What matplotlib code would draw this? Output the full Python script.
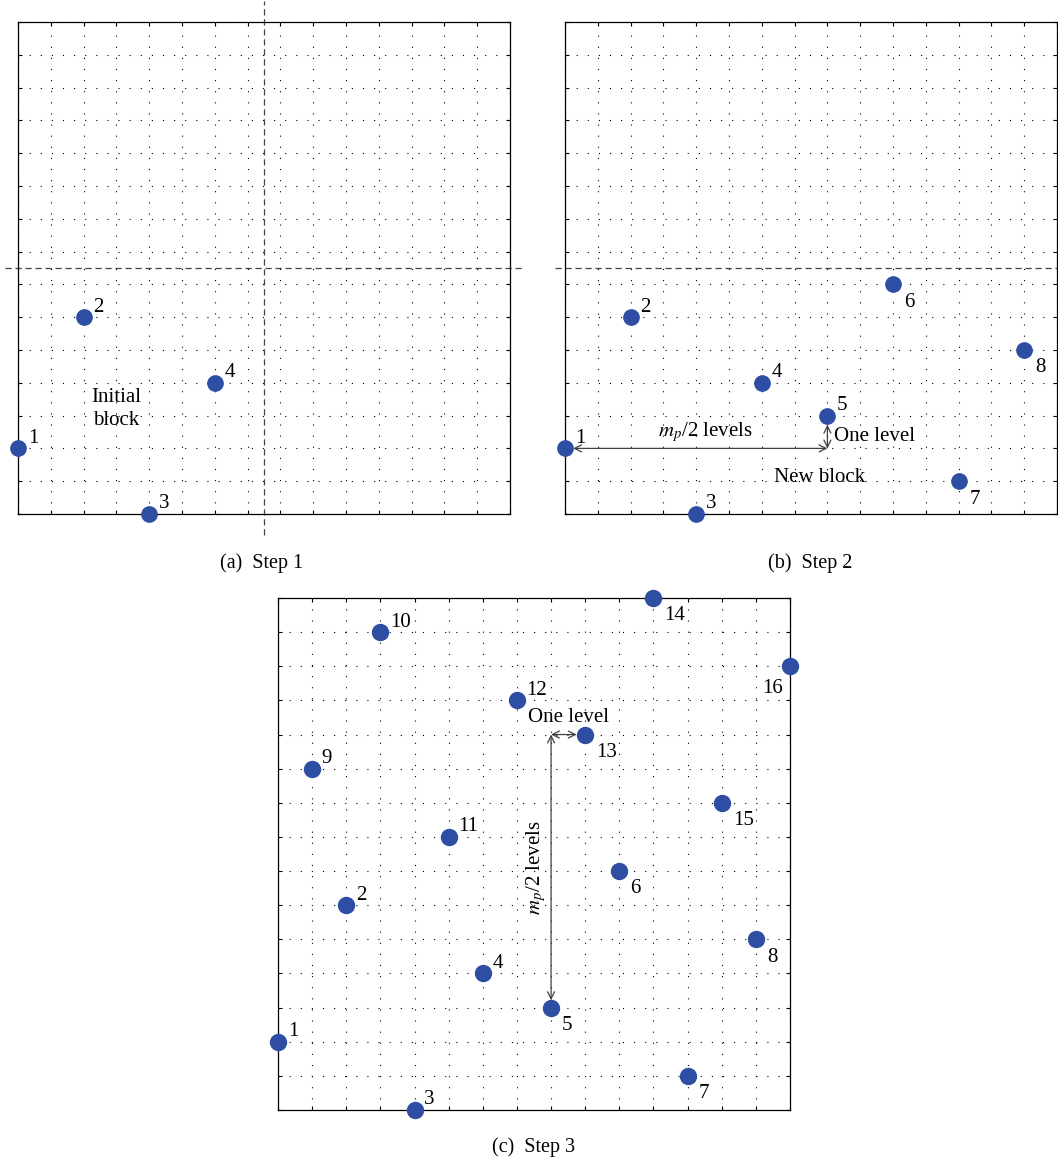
import numpy as np
import matplotlib
matplotlib.use("Agg")
import matplotlib.pyplot as plt

plt.rcParams["font.family"] = ["Liberation Serif", "DejaVu Serif"]
plt.rcParams["mathtext.fontset"] = "stix"

# ─────────────────────────────────────────────
# Sample points (grid-level coordinates) for each step
# ─────────────────────────────────────────────

step1_ids = [1, 2, 3, 4]
step1_x = [0, 2, 4, 6]
step1_y = [2, 6, 0, 4]
step1_pos = ["ur", "ur", "ur", "ur"]

step2_ids = [1, 2, 3, 4, 5, 6, 7, 8]
step2_x = [0, 2, 4, 6, 8, 10, 12, 14]
step2_y = [2, 6, 0, 4, 3, 7, 1, 5]
step2_pos = ["ur", "ur", "ur", "ur", "ur", "dr", "dr", "dr"]

step3_ids = [1, 2, 3, 4, 5, 6, 7, 8, 9, 10, 11, 12, 13, 14, 15, 16]
step3_x = [0, 2, 4, 6, 8, 10, 12, 14, 1, 3, 5, 7, 9, 11, 13, 15]
step3_y = [2, 6, 0, 4, 3, 7, 1, 5, 10, 14, 8, 12, 11, 15, 9, 13]
step3_pos = ["ur", "ur", "ur", "ur", "dr", "dr", "dr", "dr",
             "ur", "ur", "ur", "ur", "dr", "dr", "dr", "dl"]

N_LEVELS = 15
DOT = "#2d4ea2"
ARROW = "#404040"
FS = 15

W, H = 1058, 1162


def px_axes(left, top, right, bottom):
    """Axes rectangle from pixel edges of the canvas."""
    return [left / W, 1 - bottom / H, (right - left) / W, (bottom - top) / H]


def setup_grid(ax):
    ax.set_xlim(0, N_LEVELS)
    ax.set_ylim(0, N_LEVELS)
    ax.set_xticks(np.arange(0, N_LEVELS + 1))
    ax.set_yticks(np.arange(0, N_LEVELS + 1))
    ax.set_xticklabels([])
    ax.set_yticklabels([])
    ax.tick_params(direction="in", length=3, width=0.8,
                   top=True, right=True, bottom=True, left=True)
    ax.grid(True, color="black", linestyle=(0, (1, 9)), linewidth=0.8)
    for sp in ax.spines.values():
        sp.set_linewidth(0.9)


offsets = {
    "ur": ((7, 4), "left", "baseline"),
    "dr": ((8, -6), "left", "top"),
    "dl": ((-5, -9), "right", "top"),
}


def draw_points(ax, xs, ys, ids, pos, ms=11):
    ax.plot(xs, ys, "o", color=DOT, markersize=ms, clip_on=False, zorder=5)
    for x, y, i, p in zip(xs, ys, ids, pos):
        off, ha, va = offsets[p]
        ax.annotate(str(i), (x, y), xytext=off, textcoords="offset points",
                    ha=ha, va=va, fontsize=FS, zorder=6, annotation_clip=False)


def double_arrow(ax, start, end):
    ax.annotate("", xy=end, xytext=start, annotation_clip=False,
                arrowprops=dict(arrowstyle="<->,head_length=0.5,head_width=0.25",
                                color=ARROW, lw=0.9, shrinkA=0, shrinkB=0))


fig = plt.figure(figsize=(W / 100, H / 100), dpi=100)

# (a) Step 1
ax_a = fig.add_axes(px_axes(18, 22, 510, 514))
setup_grid(ax_a)
ax_a.plot([7.5, 7.5], [-0.65, 15.65], color="#444444", lw=0.9,
          linestyle=(0, (5, 3)), clip_on=False)
ax_a.plot([-0.4, 15.45], [7.5, 7.5], color="#444444", lw=0.9,
          linestyle=(0, (5, 3)), clip_on=False)
draw_points(ax_a, step1_x, step1_y, step1_ids, step1_pos)
ax_a.text(3.0, 3.2, "Initial\nblock", ha="center", va="center",
          multialignment="center", fontsize=FS, linespacing=1.35)

# (b) Step 2
ax_b = fig.add_axes(px_axes(565, 22, 1057, 514))
setup_grid(ax_b)
ax_b.plot([-0.3, 15.1], [7.5, 7.5], color="#444444", lw=0.9,
          linestyle=(0, (5, 3)), clip_on=False)
double_arrow(ax_b, (0.25, 2), (8, 2))
double_arrow(ax_b, (8, 2), (8, 2.72))
draw_points(ax_b, step2_x, step2_y, step2_ids, step2_pos)
ax_b.text(4.27, 2.5, r"$m_p$/2 levels", ha="center", va="center", fontsize=FS)
ax_b.text(8.2, 2.35, "One level", ha="left", va="center", fontsize=FS)
ax_b.text(7.77, 1.1, "New block", ha="center", va="center", fontsize=FS)

# (c) Step 3
ax_c = fig.add_axes(px_axes(278, 598, 790, 1110))
setup_grid(ax_c)
double_arrow(ax_c, (8, 11), (8, 3.22))
double_arrow(ax_c, (8, 11), (8.75, 11))
draw_points(ax_c, step3_x, step3_y, step3_ids, step3_pos, ms=11.5)
ax_c.text(8.5, 11.5, "One level", ha="center", va="center", fontsize=FS)
ax_c.text(7.55, 7.1, r"$m_p$/2 levels", ha="center", va="center",
          rotation=90, fontsize=FS)

fig.text(262 / W, 1 - 563 / H, "(a)  Step 1", ha="center", va="center", fontsize=14.5)
fig.text(810 / W, 1 - 563 / H, "(b)  Step 2", ha="center", va="center", fontsize=14.5)
fig.text(534 / W, 1 - 1147 / H, "(c)  Step 3", ha="center", va="center", fontsize=14.5)

fig.savefig("out.png", dpi=100)
